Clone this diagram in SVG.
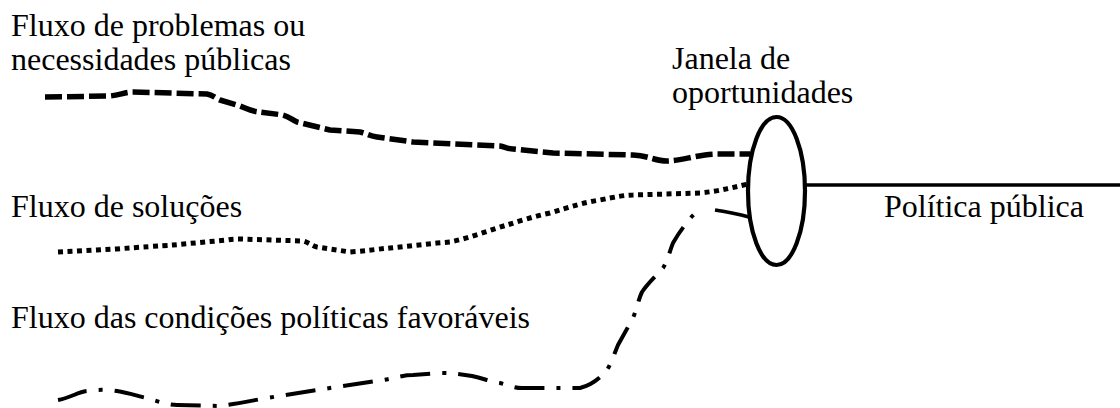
<svg xmlns="http://www.w3.org/2000/svg" width="1120" height="408" viewBox="0 0 1120 408">
  <style>
    text { font-family: "Liberation Serif", "DejaVu Serif", serif; font-size: 32px; fill: #000; }
    .flow { fill: none; stroke: #000; stroke-linejoin: round; }
    .dash { stroke-width: 5.5; stroke-dasharray: 17 5; }
    .dot { stroke-width: 5; stroke-dasharray: 5 4.5; }
    .dashdot { stroke-width: 4; stroke-dasharray: 30 12 4 12; }
    .solid { fill: none; stroke: #000; stroke-width: 3.6; }
  </style>
  <rect width="1120" height="408" fill="#fff"/>

  <g id="connectors">
    <path id="flow-problems" class="flow dash" d="M45,97 L110,96 C120,95 125,92 133,92 L207,94 C213,95 215,98 220,100 L240,106 C250,110 255,112 260,112 L283,115 C290,117 292,120 297,122 L330,130 L360,132 C368,134 370,136 377,137 L413,142 L500,146 C505,147 508,149 513,149 L553,153 L633,155 C650,156 655,161 667,161 C680,161 700,154 717,154 L750,154"/>
    <path id="flow-solutions" class="flow dot" d="M58,252 L117,249 C140,247 160,246 173,245 L227,240 C232,239 236,239 240,239 L303,241 C310,243 312,246 317,247 L350,252 C365,251 378,249 390,248 L437,243 L450,242 C470,238 490,230 507,225 C520,221 535,216 550,213 C570,207 585,202 600,200 C615,197 625,195 633,195 L700,193 C720,191 730,188 748,184"/>
    <path id="flow-politics" class="flow dashdot" d="M58,400 C70,398 78,392 87,391 C100,389 110,390 117,391 C130,393 140,397 147,398 C160,402 168,405 177,405 L220,406 C235,404 250,401 267,398 L330,388 L383,380 C395,378 403,375 413,375 L440,373 C452,373 462,374 472,376 C485,379 492,382 500,383 C510,386 515,388 522,388 L580,388 C592,385 600,378 607,370 C612,362 615,352 618,345 L633,318 C637,308 639,298 642,292 C648,283 656,276 663,268 C668,260 670,250 673,243 C677,236 681,230 685,225 C690,218 696,211 702,209"/>
    <path id="flow-politics-end" class="solid" d="M715,210 C728,212 738,214 749,217"/>
    <line id="policy-line" class="solid" x1="806" y1="185" x2="1120" y2="185"/>
  </g>

  <g id="label-problems" font-family="Liberation Serif, serif">
    <text x="11" y="36">Fluxo de problemas ou</text>
    <text x="11" y="70">necessidades públicas</text>
  </g>
  <g id="label-solutions" font-family="Liberation Serif, serif">
    <text x="11" y="217">Fluxo de soluções</text>
  </g>
  <g id="label-politics" font-family="Liberation Serif, serif">
    <text x="11" y="328">Fluxo das condições políticas favoráveis</text>
  </g>
  <g id="window" font-family="Liberation Serif, serif">
    <text x="672" y="69">Janela de</text>
    <text x="672" y="103">oportunidades</text>
    <ellipse cx="776.5" cy="191" rx="28.5" ry="74" fill="none" stroke="#000" stroke-width="4.2"/>
  </g>
  <g id="policy" font-family="Liberation Serif, serif">
    <text x="884" y="217">Política pública</text>
  </g>
</svg>
